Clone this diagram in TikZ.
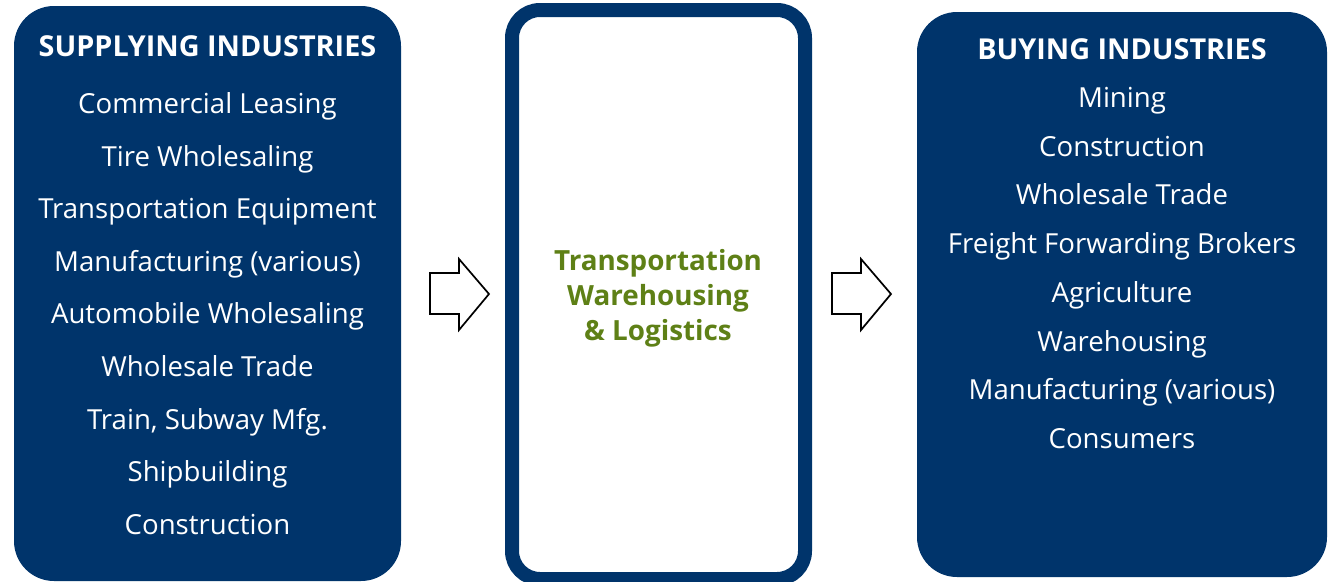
\documentclass[tikz,border=0pt]{standalone}
\usepackage{fontspec}
\setmainfont{Open Sans}
\definecolor{panelblue}{RGB}{0,52,107}
\definecolor{hubgreen}{RGB}{94,128,22}

\begin{document}
\begin{tikzpicture}[x=1pt,y=-1pt,
  panel/.style={fill=panelblue,rounded corners=40pt,inner sep=0pt},
  head/.style={text=white,anchor=base,font=\fontsize{28.8}{34}\selectfont\bfseries},
  item/.style={text=white,anchor=base,font=\fontsize{27.6}{32}\selectfont},
  blockarrow/.style={draw=black,line width=1.7pt,fill=white,line join=miter}]
\useasboundingbox (0,0) rectangle (1337,581);
\node[panel,minimum width=387pt,minimum height=575pt] (supply) at (207.5,293.5) {};
\node[panel,minimum width=410pt,minimum height=565pt] (buy) at (1122,294.5) {};
\node[draw=panelblue,line width=14pt,rounded corners=28pt,inner sep=0pt,
      minimum width=293pt,minimum height=569pt] (hub) at (658.5,294.5) {};
\node[head] (supplyhead) at (207.5,56) {SUPPLYING INDUSTRIES};
\node[head] (buyhead) at (1122,59) {BUYING INDUSTRIES};
\foreach \txt [count=\i from 0] in {Commercial Leasing,Tire Wholesaling,Transportation Equipment,
  Manufacturing (various),Automobile Wholesaling,Wholesale Trade,{Train, Subway Mfg.},Shipbuilding,Construction}{
  \node[item] (sup\i) at (207.5,113.5+52.6*\i) {\txt};
}
\foreach \txt [count=\i from 0] in {Mining,Construction,Wholesale Trade,Freight Forwarding Brokers,
  Agriculture,Warehousing,Manufacturing (various),Consumers}{
  \node[item] (buy\i) at (1122,107.5+48.7*\i) {\txt};
}
\node[text=hubgreen,align=center,font=\fontsize{27.8}{35}\selectfont\bfseries] (hubtext) at (658,298)
  {Transportation\\Warehousing\\\& Logistics};
\foreach \ax in {430,832}{
  \draw[blockarrow] (\ax,273) -- (\ax+29,273) -- (\ax+29,259) -- (\ax+59,294)
    -- (\ax+29,330) -- (\ax+29,314) -- (\ax,314) -- cycle;
}
\end{tikzpicture}
\end{document}
